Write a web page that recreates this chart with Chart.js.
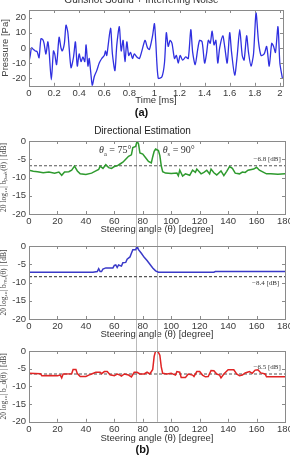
<!DOCTYPE html>
<html><head><meta charset="utf-8">
<script src="https://cdn.jsdelivr.net/npm/chart.js@4/dist/chart.umd.min.js"></script>
<style>
html,body{margin:0;padding:0;background:#fff;overflow:hidden;width:290px;height:458px;position:relative}
.c{position:absolute;left:0;width:290px}
</style></head><body>
<div class="c" style="top:-6px;height:127px"><canvas id="ca"></canvas></div>
<div class="c" style="top:118px;height:120px"><canvas id="cb1"></canvas></div>
<div class="c" style="top:238px;height:106px"><canvas id="cb2"></canvas></div>
<div class="c" style="top:344px;height:114px"><canvas id="cb3"></canvas></div>
<script>
// ---------- data ----------
const timeMs = [0,0.01,0.02,0.035,0.05,0.065,0.08,0.095,0.11,0.12,0.135,0.15,0.16,0.178,0.195,0.205,0.22,0.24,0.255,0.265,0.282,0.295,0.31,0.335,0.355,0.37,0.385,0.4,0.415,0.43,0.445,0.455,0.47,0.48,0.505,0.52,0.54,0.56,0.58,0.6,0.61,0.62,0.65,0.665,0.685,0.7,0.72,0.735,0.75,0.765,0.78,0.795,0.81,0.825,0.84,0.86,0.88,0.9,0.925,0.945,0.96,0.985,1.0,1.01,1.03,1.06,1.08,1.095,1.11,1.125,1.14,1.16,1.175,1.19,1.205,1.225,1.25,1.27,1.29,1.305,1.325,1.345,1.36,1.38,1.4,1.415,1.43,1.445,1.46,1.475,1.49,1.505,1.52,1.545,1.56,1.58,1.6,1.615,1.64,1.66,1.68,1.7,1.715,1.735,1.75,1.77,1.79,1.81,1.83,1.85,1.875,1.895,1.915,1.935,1.95,1.965,1.985,2.0,2.02];
const pressurePa = [-9,-5,0,-1,-2,-2.5,-6.5,6,5.5,3,-4,4,-2,-21,-2,-4,-11,7,0,-2,3,15,10,-13,-6,4,-12,-4,-9,-6,-9,2,-12,-7,-25,-19,-15,-10,-7,-5,-2,-5,13,-4,-15,2,14,-2,5,-9,4,-5,-3,-7,-4,-6,-7,-2,5,0,-1,8,16,5,-20,-19,-10,10,1,5,3,-7,-5,-10,-5,-8,-6,-7,12,-3,-11,-1,5,4,-10,-4,5,3,11,2,5,-10,0,8,1,-10,10,-3,-18,-5,12,-5,-8,8,-3,-12,-4,23,4,-5,-4,1,-12,3,1,-3,14,-10,-20];
const timeTicks = [0,0.2,0.4,0.6,0.8,1,1.2,1.4,1.6,1.8,2];
const pressureTicks = [-20,-10,0,10,20];

const angleTicks = [0,20,40,60,80,100,120,140,160,180];
const dbTicks = [-20,-15,-10,-5,0];
const markerAngles = [75,90];

const peakAngle = [0,3,6,10,14,18,21,23,25,28,30,32,34,36,40,44,47,49,50,52,54,56,58,60,62,64,66,68,70,72,73,75,76,77,78,80,82,84,86,87,88,89,91,92,93,94,96,100,104,105,106,108,110,113,115,117,118,121,123,125,127,128,130,132,135,137,139,141,143,145,148,150,152,154,158,160,162,165,167,170,175,180];
const peakDb = [-8.0,-8.3,-8.4,-8.7,-8.5,-8.8,-8.5,-9.4,-8.5,-8.4,-8.0,-6.9,-8.2,-9.0,-9.2,-8.8,-8.2,-7.8,-6.9,-7.5,-6.5,-7.3,-7.5,-7.0,-6.8,-6.3,-5.8,-5.0,-4.2,-3.8,-1.8,-1.5,0,-0.8,-3.3,-3.6,-4.6,-5.6,-6.0,-4.3,-2.8,-2.2,-2.6,-4.0,-6.8,-8.4,-8.8,-8.9,-8.8,-9.5,-8.0,-9.6,-9.0,-9.4,-8.0,-8.6,-7.7,-9.0,-8.6,-8.0,-9.0,-7.7,-8.7,-9.3,-8.2,-9.5,-8.3,-7.0,-7.5,-8.8,-9.0,-8.5,-8.6,-8.0,-7.7,-7.2,-8.0,-8.6,-9.0,-9.0,-9.1,-9.0];
const peakRef = -6.8;

const mvAngle = [0,20,40,45,48,49,50,51,52,54,59,60,61,62,63,65,66,68,69,71,72,73,75,76,77,79,81,83,85,87,89,91,130,131,180];
const mvDb = [-7.2,-7.2,-7.2,-7.2,-7.0,-6.2,-7.0,-7.0,-6.3,-6.0,-6.0,-5.3,-5.2,-5.9,-5.2,-5.5,-4.6,-4.5,-3.6,-3.0,-2.0,-1.0,-1.0,0,-1.0,-2.0,-3.1,-4.0,-5.0,-6.0,-6.8,-7.2,-7.2,-7.0,-7.0];
const mvRef = -8.4;

const dAngle = [0,8,9,15,20,22,23,24,30,31,33,34,36,40,42,44,47,50,51,53,55,57,60,62,64,65,67,70,72,74,76,78,81,83,85,87,88,89,90,91,92,93,94,97,100,103,104,106,107,110,112,115,116,118,120,122,124,126,128,130,132,134,135,137,140,144,146,148,150,152,155,157,159,161,163,166,167,180];
const dDb = [-6.3,-6.4,-7.0,-6.9,-7.0,-6.8,-7.6,-6.5,-6.4,-5.2,-5.2,-6.4,-7.2,-7.2,-6.8,-6.5,-6.0,-6.0,-6.4,-5.8,-5.8,-6.7,-7.0,-6.5,-6.8,-7.1,-6.5,-6.8,-7.3,-6.0,-6.0,-6.5,-6.5,-6.0,-6.5,-5.2,-1.5,0,0,-0.4,-1.2,-4.5,-6.3,-6.5,-6.3,-6.8,-5.8,-6.0,-7.5,-7.5,-6.5,-6.8,-7.2,-5.8,-5.8,-6.8,-7.3,-7.2,-5.5,-5.6,-6.5,-6.8,-7.6,-6.5,-5.3,-5.3,-6.5,-7.0,-6.8,-6.2,-5.8,-6.3,-5.4,-5.3,-6.2,-6.5,-7.3,-7.3];
const dRef = -6.5;

// ---------- helpers ----------
const SANS = "'Liberation Sans', Arial, sans-serif";
const SERIF = "'Liberation Serif', 'Times New Roman', serif";
const pts = (xs, ys) => xs.map((x, i) => ({x, y: ys[i]}));
const fmt = v => String(Math.round(v * 10) / 10);

const framePlugin = {
  id: 'frame',
  beforeDatasetsDraw(chart, args, o) {
    const ctx = chart.ctx, a = chart.chartArea, xs = chart.scales.x;
    if (o.markers) {
      ctx.save();
      ctx.strokeStyle = '#a8a8a8'; ctx.lineWidth = 0.8;
      o.markers.forEach(m => {
        const px = Math.round(xs.getPixelForValue(m)) + 0.5;
        const top = o.markerTop === 'canvas' ? 0 : a.top;
        const bot = o.markerBottom === 'canvas' ? chart.height : a.bottom;
        ctx.beginPath(); ctx.moveTo(px, top); ctx.lineTo(px, bot); ctx.stroke();
      });
      ctx.restore();
    }
  },
  afterDatasetsDraw(chart, args, o) {
    const ctx = chart.ctx, a = chart.chartArea, xs = chart.scales.x, ys = chart.scales.y;
    ctx.save();
    ctx.strokeStyle = '#8a8a8a'; ctx.lineWidth = 1;
    ctx.strokeRect(Math.round(a.left) + 0.5, Math.round(a.top) + 0.5, Math.round(a.right - a.left), Math.round(a.bottom - a.top));
    const L = 3;
    ctx.beginPath();
    xs.ticks.forEach(t => {
      const px = Math.round(xs.getPixelForValue(t.value)) + 0.5;
      ctx.moveTo(px, a.bottom); ctx.lineTo(px, a.bottom - L);
      ctx.moveTo(px, a.top); ctx.lineTo(px, a.top + L);
    });
    ys.ticks.forEach(t => {
      const py = Math.round(ys.getPixelForValue(t.value)) + 0.5;
      ctx.moveTo(a.left, py); ctx.lineTo(a.left + L, py);
      ctx.moveTo(a.right, py); ctx.lineTo(a.right - L, py);
    });
    ctx.stroke();
    (o.texts || []).forEach(tx => {
      let px = xs.getPixelForValue(tx.x), py = ys.getPixelForValue(tx.y);
      const size = tx.size || 10;
      const fontOf = p => (p.italic ? 'italic ' : '') + (p.sub ? size * 0.65 : size) + 'px ' + SERIF;
      let w = 0;
      tx.parts.forEach(p => { ctx.font = fontOf(p); w += ctx.measureText(p.t).width; });
      if (tx.align === 'right') px -= w;
      ctx.fillStyle = tx.color || '#333';
      ctx.textBaseline = 'alphabetic';
      tx.parts.forEach(p => {
        ctx.font = fontOf(p);
        ctx.fillText(p.t, px, py + (p.sub ? size * 0.25 : 0));
        px += ctx.measureText(p.t).width;
      });
    });
    ctx.restore();
  }
};

function xScale(min, max, ticksArr, title, h, pad, cb) {
  return {
    type: 'linear', min, max,
    afterBuildTicks: s => { s.ticks = ticksArr.map(v => ({value: v})); },
    ticks: {font: {size: 9.5, family: SANS}, color: '#3a3a3a', padding: 2, maxRotation: 0, autoSkip: false, callback: cb},
    grid: {display: false, drawTicks: false}, border: {display: false},
    title: {display: true, text: title, font: {size: 9.5, family: SANS}, color: '#333', padding: {top: 0, bottom: pad}},
    afterFit: s => { s.height = h; s.paddingLeft = 0; s.paddingRight = 0; }
  };
}
function yScale(min, max, ticksArr, title, tfont) {
  return {
    type: 'linear', min, max,
    afterBuildTicks: s => { s.ticks = ticksArr.map(v => ({value: v})); },
    ticks: {font: {size: 9.5, family: SANS}, color: '#3a3a3a', padding: 3, autoSkip: false, callback: v => String(v)},
    grid: {display: false, drawTicks: false}, border: {display: false},
    title: {display: true, text: title, font: tfont, color: '#444', padding: 0},
    afterFit: s => { s.width = 29; s.paddingTop = 0; s.paddingBottom = 0; }
  };
}
function lineDs(data, color, w, tension) {
  return {data, borderColor: color, borderWidth: w || 1.4, pointRadius: 0, tension: tension || 0, fill: false};
}
function refDs(y) {
  return {data: [{x: 0, y}, {x: 180, y}], borderColor: '#555', borderWidth: 1.1, borderDash: [3, 2], pointRadius: 0, fill: false};
}
Chart.defaults.animation = false;
Chart.defaults.responsive = true;
Chart.defaults.maintainAspectRatio = false;

// ---------- (a) ----------
new Chart(document.getElementById('ca'), {
  type: 'line',
  data: {datasets: [lineDs(pts(timeMs, pressurePa), '#3030e0', 1.3, 0.25)]},
  options: {
    parsing: false,
    layout: {padding: {left: 0, right: 7, top: 0, bottom: 1}},
    plugins: {
      legend: {display: false}, tooltip: {enabled: false},
      title: {display: true, text: 'Gunshot Sound + Interfering Noise', font: {size: 10, family: SANS, weight: 'normal'}, color: '#333', padding: {top: 0, bottom: 4}},
      subtitle: {display: true, position: 'bottom', text: '(a)', font: {size: 11, family: SANS, weight: 'bold'}, color: '#111', padding: {top: 0, bottom: 0}},
      frame: {}
    },
    scales: {
      x: xScale(0, 2.025, timeTicks, 'Time [ms]', 21, 1, v => fmt(v)),
      y: yScale(-25, 25, pressureTicks, 'Pressure [Pa]', {size: 9.5, family: SANS})
    }
  },
  plugins: [framePlugin]
});

const yTitleFont = {size: 7.5, family: SERIF};
const TH = {t: 'θ', italic: true};

// ---------- (b) peak ----------
new Chart(document.getElementById('cb1'), {
  type: 'line',
  data: {datasets: [lineDs(pts(peakAngle, peakDb), '#2e9a2e', 1.5), refDs(peakRef)]},
  options: {
    parsing: false,
    layout: {padding: {left: 0, right: 5, top: 7, bottom: 0}},
    plugins: {
      legend: {display: false}, tooltip: {enabled: false},
      title: {display: true, text: 'Directional Estimation', font: {size: 10, family: SANS, weight: 'normal'}, color: '#222', padding: {top: 0, bottom: 4}},
      frame: {
        markers: markerAngles, markerTop: 'area', markerBottom: 'canvas',
        texts: [
          {x: 72, y: -3.4, align: 'right', size: 10, parts: [TH, {t: 'a', sub: true}, {t: ' = 75°'}]},
          {x: 94, y: -3.4, align: 'left', size: 10, parts: [TH, {t: 's', sub: true}, {t: ' = 90°'}]},
          {x: 177, y: -5.6, align: 'right', size: 7, parts: [{t: '−6.8 [dB]'}]}
        ]
      }
    },
    scales: {
      x: xScale(0, 180, angleTicks, 'Steering angle (θ) [degree]', 24, 3),
      y: yScale(-20, 0, dbTicks, '20 log₁₀| bₚₑₐₖ(θ) | [dB]', yTitleFont)
    }
  },
  plugins: [framePlugin]
});

// ---------- (b) mv ----------
new Chart(document.getElementById('cb2'), {
  type: 'line',
  data: {datasets: [lineDs(pts(mvAngle, mvDb), '#3a3ac8', 1.5), refDs(mvRef)]},
  options: {
    parsing: false,
    layout: {padding: {left: 0, right: 5, top: 8, bottom: 0}},
    plugins: {
      legend: {display: false}, tooltip: {enabled: false},
      frame: {
        markers: markerAngles, markerTop: 'canvas', markerBottom: 'canvas',
        texts: [{x: 176, y: -10.6, align: 'right', size: 7, parts: [{t: '−8.4 [dB]'}]}]
      }
    },
    scales: {
      x: xScale(0, 180, angleTicks, 'Steering angle (θ) [degree]', 25, 4),
      y: yScale(-20, 0, dbTicks, '20 log₁₀| bₘᵥ(θ) | [dB]', yTitleFont)
    }
  },
  plugins: [framePlugin]
});

// ---------- (b) d ----------
new Chart(document.getElementById('cb3'), {
  type: 'line',
  data: {datasets: [lineDs(pts(dAngle, dDb), '#e02424', 1.5), refDs(dRef)]},
  options: {
    parsing: false,
    layout: {padding: {left: 0, right: 5, top: 7, bottom: 0}},
    plugins: {
      legend: {display: false}, tooltip: {enabled: false},
      subtitle: {display: true, position: 'bottom', text: '(b)', font: {size: 11, family: SANS, weight: 'bold'}, color: '#111', padding: {top: 0, bottom: 1}},
      frame: {
        markers: markerAngles, markerTop: 'canvas', markerBottom: 'area',
        texts: [{x: 177, y: -5.2, align: 'right', size: 7, parts: [{t: '−6.5 [dB]'}]}]
      }
    },
    scales: {
      x: xScale(0, 180, angleTicks, 'Steering angle (θ) [degree]', 22, 0),
      y: yScale(-20, 0, dbTicks, '20 log₁₀| b_d(θ) | [dB]', yTitleFont)
    }
  },
  plugins: [framePlugin]
});
</script>
</body></html>
